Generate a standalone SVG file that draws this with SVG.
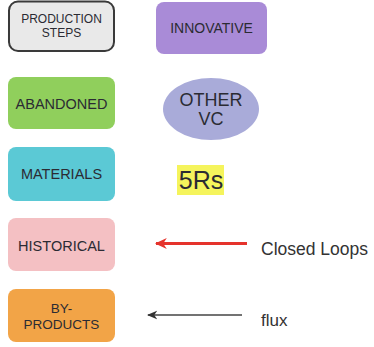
<svg xmlns="http://www.w3.org/2000/svg" width="374" height="347" viewBox="0 0 374 347">
  <style>
    .lbl { font-family: "Liberation Sans", Arial, sans-serif; fill: #2b2b33; text-anchor: middle; }
    .note { font-family: "Liberation Sans", Arial, sans-serif; fill: #333; }
  </style>
  <defs>
    <marker id="headRed" viewBox="0 0 10 10" refX="9" refY="5" markerWidth="4" markerHeight="3.6" orient="auto" preserveAspectRatio="none">
      <path d="M0,0 L10,5 L0,10 L3,5 Z" fill="#e5332c"/>
    </marker>
    <marker id="headDark" viewBox="0 0 10 10" refX="9" refY="5" markerWidth="7.5" markerHeight="6.5" orient="auto" preserveAspectRatio="none">
      <path d="M0,0 L10,5 L0,10 L3,5 Z" fill="#333"/>
    </marker>
  </defs>
  <rect width="374" height="347" fill="#fff"/>

  <g id="production-steps">
    <rect x="9" y="1.5" width="105" height="49.5" rx="9" fill="#e9e9e9" stroke="#3a3a3a" stroke-width="2"/>
    <text class="lbl" x="61.5" y="23" font-size="12">PRODUCTION</text>
    <text class="lbl" x="61.5" y="37" font-size="12">STEPS</text>
  </g>
  <g id="innovative">
    <rect x="156" y="2" width="111" height="52" rx="8" fill="#a98bd7"/>
    <text class="lbl" x="211.5" y="33" font-size="14">INNOVATIVE</text>
  </g>
  <g id="abandoned">
    <rect x="8" y="77" width="107" height="52" rx="8" fill="#90cf5c"/>
    <text class="lbl" x="61.5" y="108.5" font-size="14.5">ABANDONED</text>
  </g>
  <g id="other-vc">
    <ellipse cx="211" cy="109" rx="48" ry="31" fill="#a9abd9"/>
    <text class="lbl" x="211" y="106" font-size="18">OTHER</text>
    <text class="lbl" x="211" y="125" font-size="18">VC</text>
  </g>
  <g id="materials">
    <rect x="8" y="147" width="107" height="54" rx="8" fill="#5bc9d5"/>
    <text class="lbl" x="61.5" y="179" font-size="14.5">MATERIALS</text>
  </g>
  <g id="five-rs">
    <rect x="177" y="165" width="47" height="30" fill="#f5f45c"/>
    <text class="lbl" x="201" y="189" font-size="25">5Rs</text>
  </g>
  <g id="historical">
    <rect x="8" y="218" width="107" height="53" rx="8" fill="#f4c0c3"/>
    <text class="lbl" x="61.5" y="251" font-size="14.5">HISTORICAL</text>
  </g>
  <g id="by-products">
    <rect x="8" y="289" width="107" height="53" rx="8" fill="#f2a447"/>
    <text class="lbl" x="61.5" y="313" font-size="13.5">BY-</text>
    <text class="lbl" x="61.5" y="329" font-size="13.5">PRODUCTS</text>
  </g>

  <g id="connectors">
    <line x1="247" y1="243.5" x2="156" y2="243.5" stroke="#e5332c" stroke-width="3" marker-end="url(#headRed)"/>
    <line x1="242" y1="315" x2="148" y2="315" stroke="#444" stroke-width="1.4" marker-end="url(#headDark)"/>
  </g>

  <text class="note" x="261" y="255" font-size="17.5">Closed Loops</text>
  <text class="note" x="261" y="326" font-size="17">flux</text>
</svg>
